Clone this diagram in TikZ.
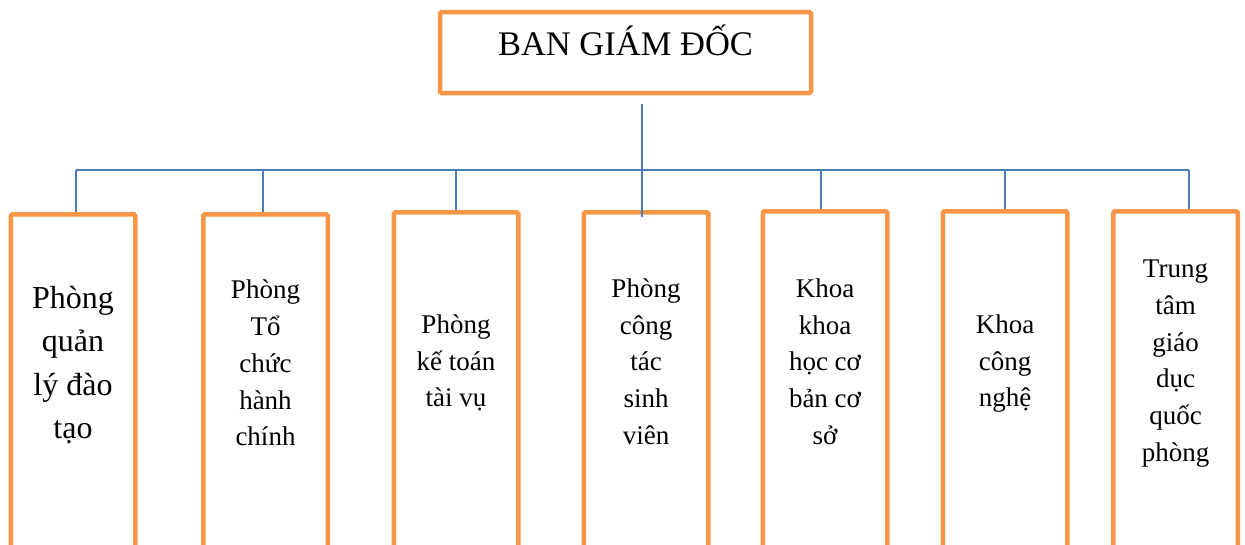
\documentclass[tikz,border=0pt]{standalone}
\usepackage{fontspec}
\setmainfont{Liberation Serif}
\usepackage{xcolor}
\usepackage{tikz}
\usetikzlibrary{calc}
\definecolor{borange}{HTML}{F79646}
\definecolor{lblue}{HTML}{4A7EBB}

\tikzset{
  unitbox/.style={draw=borange, line width=4.5pt, rounded corners=1.5pt, minimum width=124.5pt, minimum height=400pt, anchor=north, inner sep=0pt},
  unittext/.style={anchor=north, inner sep=0pt, align=center, font=\fontsize{27}{36.7}\selectfont},
  link/.style={draw=lblue, line width=1.6pt}
}

\begin{document}
\begin{tikzpicture}[x=1pt, y=-1pt]
\useasboundingbox (0,0) rectangle (1245,544);
\clip (0,0) rectangle (1245,544);
\node[draw=borange, line width=4.5pt, rounded corners=1.5pt, minimum width=371pt, minimum height=81pt, inner sep=0pt,
  text height=23pt, text depth=18pt, font=\fontsize{34.5}{40}\selectfont]
  (boss) at (625.5,52.5) {BAN GIÁM ĐỐC};
\node[unitbox] (b1) at (73,212) {};
\node[unitbox] (b2) at (265.5,212) {};
\node[unitbox] (b3) at (456,210) {};
\node[unitbox] (b4) at (646,210) {};
\node[unitbox] (b5) at (825,209) {};
\node[unitbox] (b6) at (1005,209) {};
\node[unitbox] (b7) at (1175.5,209) {};
\node[unittext, font=\fontsize{32}{43.3}\selectfont] (t1) at (73,286) {Phòng\\quản\\lý đào\\tạo};
\node[unittext] (t2) at (265.5,280) {Phòng\\Tổ\\chức\\hành\\chính};
\node[unittext] (t3) at (456,314.6) {Phòng\\kế toán\\tài vụ};
\node[unittext] (t4) at (646,278.6) {Phòng\\công\\tác\\sinh\\viên};
\node[unittext] (t5) at (825,278.6) {Khoa\\khoa\\học cơ\\bản cơ\\sở};
\node[unittext] (t6) at (1005,314.6) {Khoa\\công\\nghệ};
\node[unittext] (t7) at (1175.5,260) {Trung\\tâm\\giáo\\dục\\quốc\\phòng};
\coordinate (d1) at (76,170);
\coordinate (d2) at (263,170);
\coordinate (d3) at (456,170);
\coordinate (d4) at (642,170);
\coordinate (d5) at (821,170);
\coordinate (d6) at (1005,170);
\coordinate (d7) at (1189,170);
\draw[link] (d4 |- boss.south) ++(0,9) -- ($(d4 |- b4.north)+(0,7)$);
\draw[link] (d1) -- (d7);
\draw[link] (d1) -- (d1 |- b1.north);
\draw[link] (d2) -- (d2 |- b2.north);
\draw[link] (d3) -- (d3 |- b3.north);
\draw[link] (d5) -- (d5 |- b5.north);
\draw[link] (d6) -- (d6 |- b6.north);
\draw[link] (d7) -- (d7 |- b7.north);
\end{tikzpicture}
\end{document}
